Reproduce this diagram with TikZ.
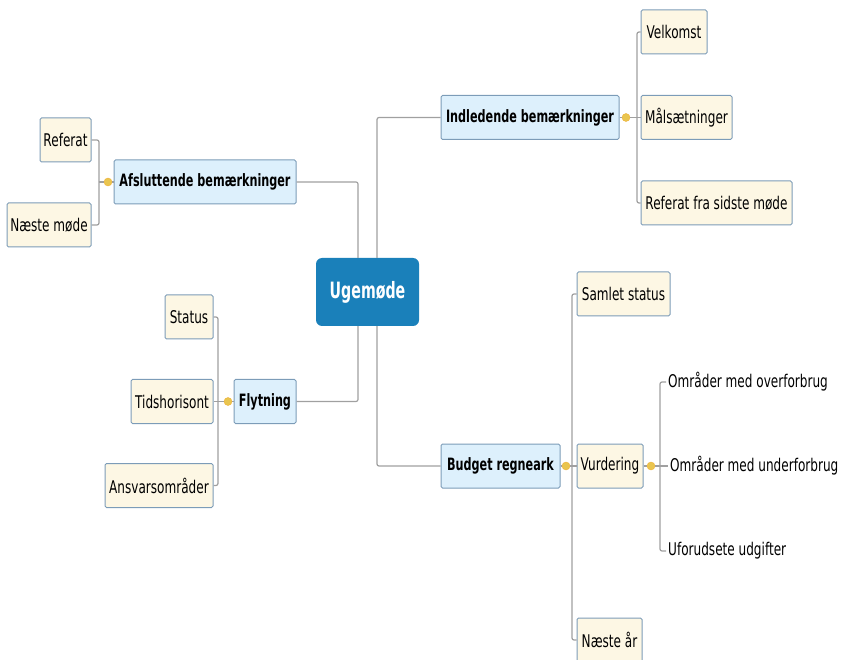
\documentclass[tikz,border=0pt]{standalone}
\usepackage{fontspec}
\setmainfont{DejaVu Sans}[FakeStretch=0.69]
\newfontfamily\boldcond{DejaVu Sans}[FakeStretch=0.66,UprightFont=* Bold]
\newfontfamily\bigbold{DejaVu Sans}[FakeStretch=0.63,UprightFont=* Bold]
\definecolor{cream}{HTML}{FDF7E4}
\definecolor{lblue}{HTML}{DDF0FC}
\definecolor{bord}{HTML}{7C9CB8}
\definecolor{lgray}{HTML}{A0A0A0}
\definecolor{mainblue}{HTML}{1A80BA}
\definecolor{dotc}{HTML}{E9C54F}
\begin{document}
\begin{tikzpicture}[x=1pt,y=-1pt,
  leaf/.style={draw=bord,line width=1pt,fill=cream,rounded corners=1.5pt,inner sep=0pt,minimum height=44pt,font=\fontsize{17.5}{19}\selectfont},
  branch/.style={draw=bord,line width=1pt,fill=lblue,rounded corners=1.5pt,inner sep=0pt,minimum height=44pt,font=\boldcond\fontsize{17}{19}\selectfont},
  plain/.style={inner sep=0pt,anchor=west,font=\fontsize{17.5}{19}\selectfont},
  center/.style={fill=mainblue,rounded corners=6pt,inner sep=0pt,minimum width=103pt,minimum height=68pt,text=white,font=\bigbold\fontsize{22.5}{24}\selectfont},
  conn/.style={draw=lgray,line width=1.2pt,rounded corners=2pt},
  knob/.style={circle,fill=dotc,draw=dotc!70!orange,line width=0.4pt,inner sep=0pt,minimum size=8pt}]
\useasboundingbox (0,0) rectangle (841,660);
% center
\node[center] (ctr) at (367.5,292) {Ugemøde};
% main branches
\node[branch,minimum width=178pt] (ind) at (530,117.5) {Indledende bemærkninger};
\node[branch,minimum width=182pt] (afs) at (205,182) {Afsluttende bemærkninger};
\node[branch,minimum width=62pt] (fly) at (265,401.5) {Flytning};
\node[branch,minimum width=119pt] (bud) at (500.5,466) {Budget regneark};
% center connectors
\draw[conn] ([xshift=-9.5pt]ctr.north) |- (afs.east);
\draw[conn] ([xshift=9.5pt]ctr.north) |- (ind.west);
\draw[conn] ([xshift=-9.5pt]ctr.south) |- (fly.east);
\draw[conn] ([xshift=9.5pt]ctr.south) |- (bud.west);
% Indledende children
\node[leaf,minimum width=66pt] (vel) at (674,32) {Velkomst};
\node[leaf,minimum width=91pt] (mal) at (686.5,117.5) {Målsætninger};
\node[leaf,minimum width=151pt] (ref) at (716.5,203) {Referat fra sidste møde};
\node[knob] (kI) at (626,117.5) {};
\coordinate (jI) at (637,117.5);
\draw[conn] (ind.east) -- (kI);
\draw[conn] (kI) -- (jI);
\draw[conn] (jI) |- (vel.west);
\draw[conn] (jI) -- (mal.west);
\draw[conn] (jI) |- (ref.west);
% Afsluttende children
\node[leaf,minimum width=51pt] (refr) at (65.5,140) {Referat};
\node[leaf,minimum width=84pt] (nm) at (49,225) {Næste møde};
\node[knob] (kA) at (108,182) {};
\coordinate (jA) at (99,182);
\draw[conn] (afs.west) -- (kA);
\draw[conn] (kA) -- (jA);
\draw[conn] (jA) |- (refr.east);
\draw[conn] (jA) |- (nm.east);
% Flytning children
\node[leaf,minimum width=48pt] (sta) at (189,317) {Status};
\node[leaf,minimum width=82pt] (tid) at (172,401.5) {Tidshorisont};
\node[leaf,minimum width=108pt] (ans) at (159,485.5) {Ansvarsområder};
\node[knob] (kF) at (228,401.5) {};
\coordinate (jF) at (218,401.5);
\draw[conn] (fly.west) -- (kF);
\draw[conn] (kF) -- (jF);
\draw[conn] (jF) |- (sta.east);
\draw[conn] (jF) -- (tid.east);
\draw[conn] (jF) |- (ans.east);
% Budget children
\node[leaf,minimum width=93pt] (sam) at (623.5,294) {Samlet status};
\node[leaf,minimum width=66pt] (vur) at (610,466) {Vurdering};
\node[leaf,minimum width=65pt] (nae) at (609.5,640) {Næste år};
\node[knob] (kB) at (566,466) {};
\coordinate (jB) at (572,466);
\draw[conn] (bud.east) -- (kB);
\draw[conn] (kB) -- (jB);
\draw[conn] (jB) |- (sam.west);
\draw[conn] (jB) -- (vur.west);
\draw[conn] (jB) |- (nae.west);
% Vurdering children
\node[plain] (ov) at (668,382) {Områder med overforbrug};
\node[plain] (un) at (670,466) {Områder med underforbrug};
\node[plain] (uf) at (668,551) {Uforudsete udgifter};
\node[knob] (kV) at (651,466) {};
\coordinate (jV) at (660,466);
\draw[conn] (vur.east) -- (kV);
\draw[conn] (kV) -- (jV);
\draw[conn] (jV) |- ([xshift=-2pt]ov.west);
\draw[conn] (jV) -- ([xshift=-2pt]un.west);
\draw[conn] (jV) |- ([xshift=-2pt]uf.west);
\end{tikzpicture}
\end{document}
